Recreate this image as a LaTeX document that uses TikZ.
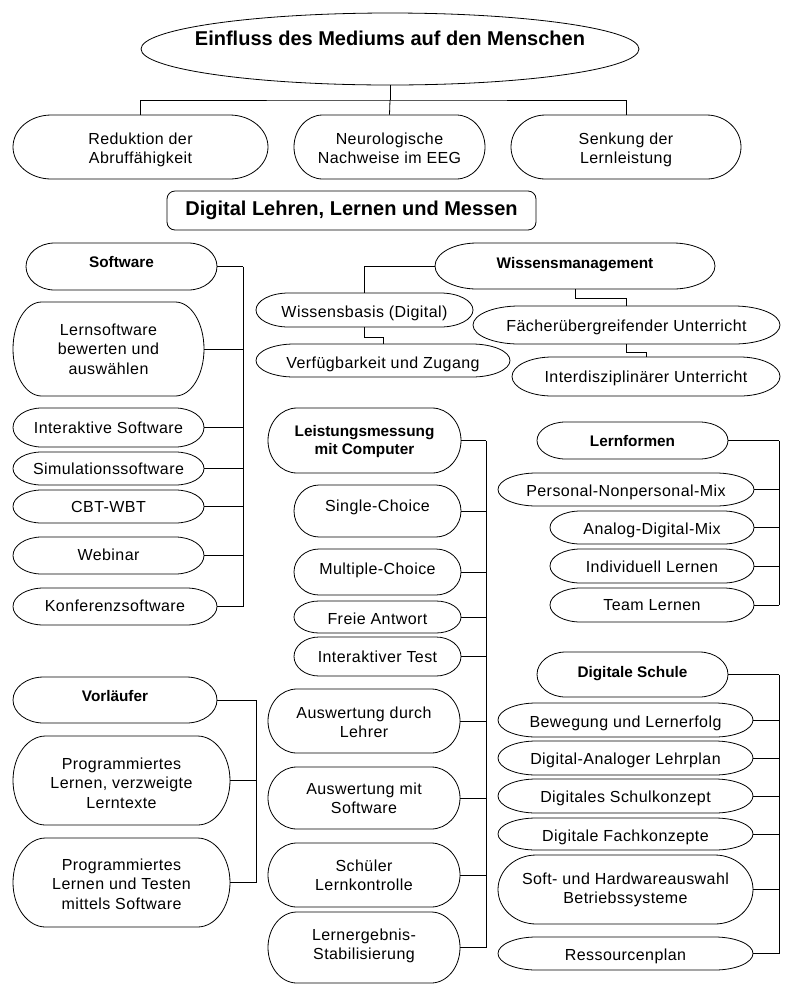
\documentclass[tikz,border=0pt]{standalone}
\usepackage{fontspec}
\setmainfont{Liberation Sans}
\newfontfamily\regf{Liberation Sans}[LetterSpace=2.7]
\usetikzlibrary{shapes.geometric}

% name, x1, y1, x2, y2 (px, y downward), text y, text style, text
\newcommand\bx[8]{%
  \pgfmathsetmacro\cxa{(#2+#4)/2}%
  \pgfmathsetmacro\cya{-(#3+#5)/2}%
  \pgfmathsetmacro\wwa{(#4-#2)*0.75}%
  \pgfmathsetmacro\hha{(#5-#3)*0.75}%
  \pgfmathsetmacro\rxa{(#4-#2)*0.15}%
  \pgfmathsetmacro\rxpt{\rxa*0.75}%
  \pgfmathsetmacro\rypt{\hha/2}%
  \pgfmathsetmacro\tya{-(#6)}%
  \node[inner sep=0pt,minimum width=\wwa pt,minimum height=\hha pt] (#1) at (\cxa,\cya) {};
  \draw[shp] ({#2+\rxa},{-#3}) -- ({#4-\rxa},{-#3})
     arc[start angle=90,end angle=-90,x radius=\rxpt pt,y radius=\rypt pt]
     -- ({#2+\rxa},{-#5})
     arc[start angle=270,end angle=90,x radius=\rxpt pt,y radius=\rypt pt] -- cycle;
  \node[#7] (#1t) at (\cxa,\tya) {#8};
}

\begin{document}
\begin{tikzpicture}[x=0.75pt,y=0.75pt,
  shp/.style={draw=black,line width=0.6pt},
  cn/.style={draw=black,line width=0.6pt},
  reg/.style={font=\regf\fontsize{12}{14.5}\selectfont,align=center,inner sep=0pt},
  hd/.style={font=\bfseries\fontsize{11.5}{13.5}\selectfont,align=center,inner sep=0pt},
  ttl/.style={font=\bfseries\fontsize{15}{18}\selectfont,align=center,inner sep=0pt}]

\fill[white] (0,0) rectangle (792,-997);
\useasboundingbox (0,0) rectangle (792,-997);

% ---------- top ----------
\node[ellipse,shp,minimum width=373.5pt,minimum height=54pt,inner sep=0pt] (top) at (390,-49) {};
\node[ttl] (topt) at (390,-41) {\strut Einfluss des Mediums auf den Menschen};

\bx{red}{13}{115}{268}{179}{150}{reg}{\strut Reduktion der\\\strut Abruffähigkeit}
\bx{neu}{294}{115}{485}{179}{150}{reg}{\strut Neurologische\\\strut Nachweise im EEG}
\bx{sen}{511}{115}{741}{179}{150}{reg}{\strut Senkung der\\\strut Lernleistung}

\coordinate (tj) at (390,-100);
\draw[cn] (top.south) -- (tj);
\draw[cn] (red.north) |- (tj) -| (sen.north);
\draw[cn] (tj) -- (neu.north);

\node[shp,ttl,rounded corners=6pt,minimum width=276.75pt,minimum height=29.25pt] (dig) at (351.5,-210.5) {\strut Digital Lehren, Lernen und Messen};

% ---------- left column: Software ----------
\bx{sw}{26}{243}{217}{290}{264}{hd}{\strut Software}
\bx{ls}{13}{302}{204}{396}{351}{reg}{\strut Lernsoftware\\\strut bewerten und\\\strut auswählen}
\bx{is}{13}{408}{204}{447}{430}{reg}{\strut Interaktive Software}
\bx{sim}{13}{452}{204}{485}{471}{reg}{\strut Simulationssoftware}
\bx{cbt}{13}{490}{204}{523}{509}{reg}{\strut CBT-WBT}
\bx{web}{13}{537}{204}{574}{557}{reg}{\strut Webinar}
\bx{kon}{13}{588}{217}{625}{608}{reg}{\strut Konferenzsoftware}
\coordinate (busA) at (243,0);
\foreach \n in {sw,ls,is,sim,cbt,web,kon} {\draw[cn] (\n.east) -- (\n.east -| busA);}
\draw[cn] (sw.east -| busA) -- (kon.east -| busA);

% ---------- left column: Vorlaeufer ----------
\bx{vor}{13}{677}{217}{723}{698}{hd}{\strut Vorläufer}
\bx{pla}{13}{736}{230}{825}{785}{reg}{\strut Programmiertes\\\strut Lernen, verzweigte\\\strut Lerntexte}
\bx{plb}{13}{838}{230}{927}{886}{reg}{\strut Programmiertes\\\strut Lernen und Testen\\\strut mittels Software}
\coordinate (busB) at (256,0);
\foreach \n in {vor,pla,plb} {\draw[cn] (\n.east) -- (\n.east -| busB);}
\draw[cn] (vor.east -| busB) -- (plb.east -| busB);

% ---------- Wissensmanagement ----------
\bx{wm}{435}{243}{715}{289}{265}{hd}{\strut Wissensmanagement}
\bx{wb}{256}{293}{473}{327}{314}{reg}{\strut Wissensbasis (Digital)}
\bx{vz}{256}{344}{510}{377}{365}{reg}{\strut Verfügbarkeit und Zugang}
\bx{fu}{473}{306}{780}{344}{328}{reg}{\strut Fächerübergreifender Unterricht}
\bx{iu}{512}{357}{780}{396}{379}{reg}{\strut Interdisziplinärer Unterricht}
\draw[cn] (wm.west) -| (wb.north);
\draw[cn] (wb.south) -- ++(0,-10) -| (vz.north);
\draw[cn] (wm.south) -- ++(0,-9) -| (fu.north);
\draw[cn] (fu.south) -- ++(0,-8) -| (iu.north);

% ---------- Leistungsmessung ----------
\bx{lm}{268}{408}{461}{473}{442}{hd}{\strut Leistungsmessung\\\strut mit Computer}
\bx{sc}{294}{485}{461}{537}{508}{reg}{\strut Single-Choice}
\bx{mc}{294}{549}{461}{595}{571}{reg}{\strut Multiple-Choice}
\bx{fa}{294}{601}{461}{633}{621}{reg}{\strut Freie Antwort}
\bx{it}{294}{637}{461}{676}{659}{reg}{\strut Interaktiver Test}
\bx{al}{268}{689}{460}{753}{724}{reg}{\strut Auswertung durch\\\strut Lehrer}
\bx{as}{268}{767}{460}{829}{800}{reg}{\strut Auswertung mit\\\strut Software}
\bx{sl}{268}{843}{460}{907}{877}{reg}{\strut Schüler\\\strut Lernkontrolle}
\bx{le}{268}{912}{460}{983}{946}{reg}{\strut Lernergebnis-\\\strut Stabilisierung}
\coordinate (busC) at (486,0);
\foreach \n in {lm,sc,mc,fa,it,al,as,sl,le} {\draw[cn] (\n.east) -- (\n.east -| busC);}
\draw[cn] (lm.east -| busC) -- (le.east -| busC);

% ---------- Lernformen ----------
\bx{lf}{537}{422}{728}{459}{443}{hd}{\strut Lernformen}
\bx{pn}{498}{473}{754}{506}{493}{reg}{\strut Personal-Nonpersonal-Mix}
\bx{ad}{550}{511}{754}{544}{531}{reg}{\strut Analog-Digital-Mix}
\bx{il}{550}{549}{754}{583}{569}{reg}{\strut Individuell Lernen}
\bx{tl}{550}{588}{754}{622}{607}{reg}{\strut Team Lernen}
\coordinate (busD) at (779,0);
\foreach \n in {lf,pn,ad,il,tl} {\draw[cn] (\n.east) -- (\n.east -| busD);}
\draw[cn] (lf.east -| busD) -- (tl.east -| busD);

% ---------- Digitale Schule ----------
\bx{ds}{537}{652}{728}{697}{674}{hd}{\strut Digitale Schule}
\bx{bl}{498}{703}{753}{737}{724}{reg}{\strut Bewegung und Lernerfolg}
\bx{dal}{498}{741}{753}{775}{761}{reg}{\strut Digital-Analoger Lehrplan}
\bx{dsk}{498}{779}{753}{813}{799}{reg}{\strut Digitales Schulkonzept}
\bx{dfk}{498}{818}{753}{850}{838}{reg}{\strut Digitale Fachkonzepte}
\bx{shw}{498}{855}{753}{924}{890}{reg}{\strut Soft- und Hardwareauswahl\\\strut Betriebssysteme}
\bx{rp}{498}{937}{753}{970}{957}{reg}{\strut Ressourcenplan}
\coordinate (busE) at (779,0);
\foreach \n in {ds,bl,dal,dsk,dfk,shw,rp} {\draw[cn] (\n.east) -- (\n.east -| busE);}
\draw[cn] (ds.east -| busE) -- (rp.east -| busE);

\end{tikzpicture}
\end{document}
